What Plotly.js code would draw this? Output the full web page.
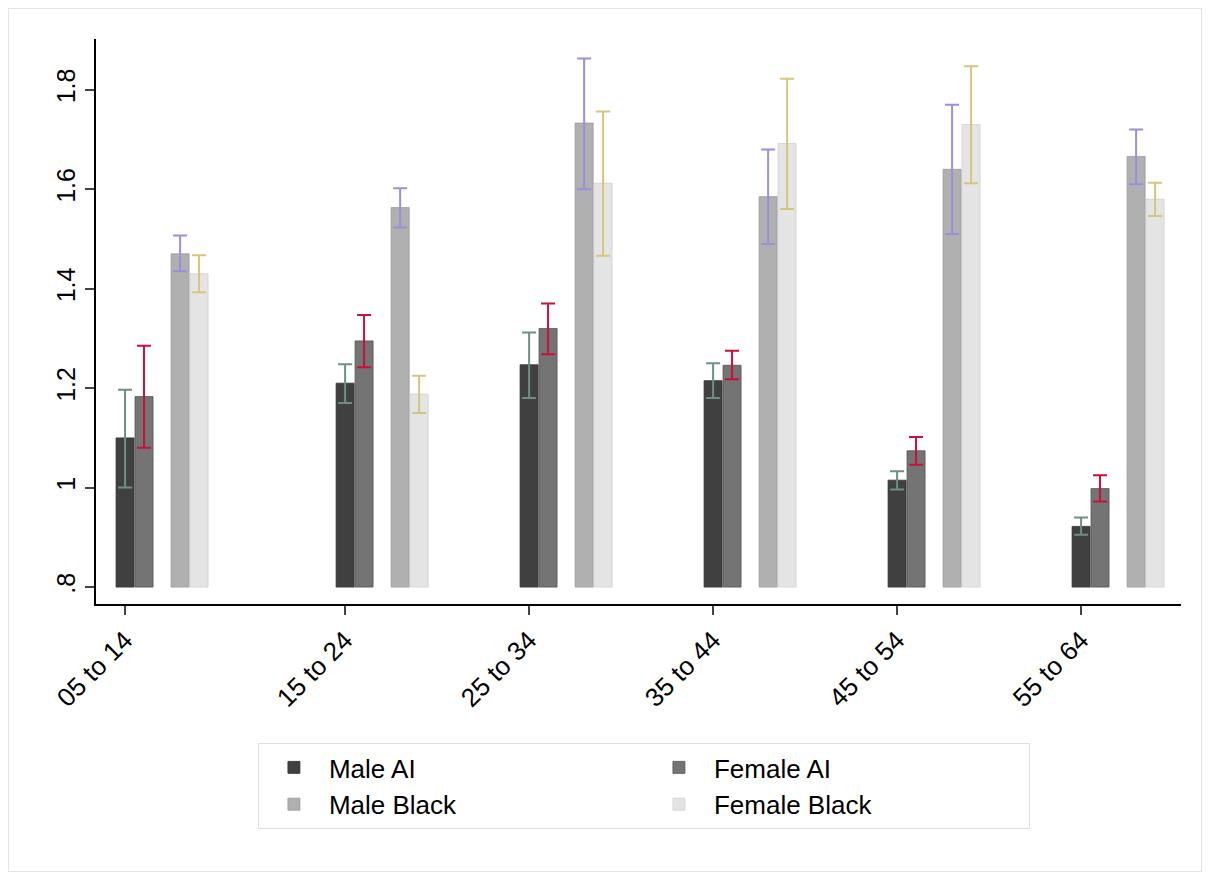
<!DOCTYPE html>
<html><head>
<script src="https://cdn.plot.ly/plotly-3.0.1.min.js"></script>
<style>body{margin:0;background:#fff}#chart{position:absolute;left:8px;top:8px;width:1192px;height:862px;border:1px solid #e4e4e4}</style>
</head><body><div id="chart"></div>
<script>
var groups = ['05 to 14','15 to 24','25 to 34','35 to 44','45 to 54','55 to 64'];
var groupPos = [0, 1.196, 2.196, 3.196, 4.196, 5.196];

var maleAI = [1.100, 1.210, 1.247, 1.215, 1.015, 0.922];
var maleAILo = [1.000, 1.170, 1.180, 1.180, 0.996, 0.905];
var maleAIHi = [1.197, 1.248, 1.312, 1.250, 1.033, 0.940];

var femaleAI = [1.183, 1.295, 1.320, 1.246, 1.074, 0.998];
var femaleAILo = [1.080, 1.242, 1.268, 1.218, 1.046, 0.972];
var femaleAIHi = [1.285, 1.347, 1.370, 1.275, 1.102, 1.025];

var maleBlack = [1.470, 1.563, 1.733, 1.585, 1.640, 1.666];
var maleBlackLo = [1.435, 1.523, 1.600, 1.490, 1.510, 1.610];
var maleBlackHi = [1.507, 1.602, 1.863, 1.680, 1.770, 1.720];

var femaleBlack = [1.430, 1.188, 1.612, 1.692, 1.730, 1.580];
var femaleBlackLo = [1.393, 1.150, 1.466, 1.560, 1.612, 1.546];
var femaleBlackHi = [1.467, 1.225, 1.756, 1.822, 1.847, 1.613];

var base = 0.8;
function trace(name, v, lo, hi, off, fill, line, ecol) {
  return {
    type: 'bar', name: name,
    x: groupPos.map(function (p) { return p + off; }),
    y: v.map(function (d) { return d - base; }),
    base: base, width: 0.098,
    marker: {color: fill, line: {color: line, width: 0.8}},
    error_y: {type: 'data', symmetric: false,
      array: hi.map(function (h, i) { return h - v[i]; }),
      arrayminus: lo.map(function (l, i) { return v[i] - l; }),
      color: ecol, thickness: 2, width: 7},
    hoverinfo: 'y'
  };
}
var data = [
  trace('Male AI', maleAI, maleAILo, maleAIHi, 0, '#404040', '#303030', '#6f8f80'),
  trace('Female AI', femaleAI, femaleAILo, femaleAIHi, 0.103, '#747474', '#555555', '#c8103a'),
  trace('Male Black', maleBlack, maleBlackLo, maleBlackHi, 0.299, '#b0b0b0', '#999999', '#9a8fdc'),
  trace('Female Black', femaleBlack, femaleBlackLo, femaleBlackHi, 0.402, '#e4e4e4', '#d0d0d0', '#d6c67c')
];
var layout = {
  width: 1192, height: 862,
  margin: {l: 87, r: 20, t: 30, b: 267},
  paper_bgcolor: '#fff', plot_bgcolor: '#fff',
  font: {family: 'Liberation Sans, Arial, sans-serif', size: 24, color: '#000'},
  barmode: 'overlay', showlegend: true,
  xaxis: {range: [-0.158, 5.739], tickvals: groupPos, ticktext: groups, tickangle: -45,
    showline: true, linecolor: '#000', linewidth: 1.5, ticks: 'outside', ticklen: 9,
    tickwidth: 1.5, showgrid: false, zeroline: false, tickfont: {size: 26}, automargin: false},
  yaxis: {range: [0.766, 1.902], tickvals: [0.8, 1, 1.2, 1.4, 1.6, 1.8],
    ticktext: ['.8', '1', '1.2', '1.4', '1.6', '1.8'], tickangle: -90,
    showline: true, linecolor: '#000', linewidth: 1.5, ticks: 'outside', ticklen: 9,
    tickwidth: 1.5, showgrid: false, zeroline: false, tickfont: {size: 25}, automargin: false},
  legend: {orientation: 'h', x: 0.505, xanchor: 'center', y: -0.246, yanchor: 'top',
    bordercolor: '#e0e0e0', borderwidth: 1, entrywidth: 310, itemwidth: 60,
    font: {size: 26}, traceorder: 'normal'}
};
Plotly.newPlot('chart', data, layout, {displayModeBar: false});
</script></body></html>
